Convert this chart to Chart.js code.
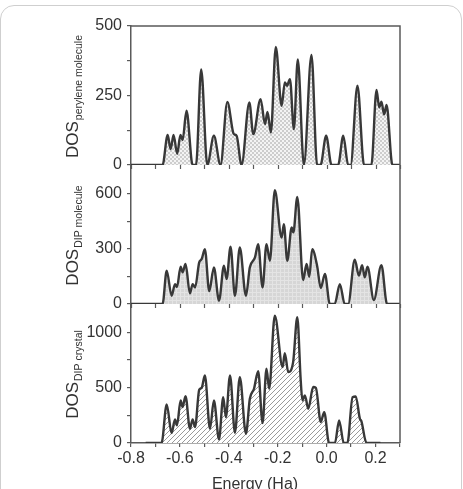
<!DOCTYPE html>
<html>
<head>
<meta charset="utf-8">
<script src="https://cdn.jsdelivr.net/npm/chart.js@4.4.1/dist/chart.umd.min.js"></script>
<style>
  html, body { margin: 0; padding: 0; background: #fff; }
  #wrap { position: relative; width: 463px; height: 489px; overflow: hidden; }
  #frame { position: absolute; left: 0; top: 5px; width: 460px; height: 520px;
           border: 1px solid #cfcfcf; border-radius: 14px; }
  #chart { position: absolute; left: 0; top: 0; }
</style>
</head>
<body>
<div id="wrap">
  <div id="frame"></div>
  <canvas id="chart" width="463" height="489"></canvas>
</div>
<script>
// Energy (Ha) / DOS pairs (peaks, valleys, zero crossings)
const perylE = [-0.80, -0.671, -0.650, -0.638, -0.626, -0.611, -0.598, -0.589, -0.573, -0.548,
  -0.534, -0.513, -0.488, -0.461, -0.434, -0.406, -0.380, -0.368, -0.348, -0.316,
  -0.300, -0.270, -0.252, -0.242, -0.228, -0.208, -0.184, -0.171, -0.162, -0.150,
  -0.134, -0.118, -0.093, -0.062, -0.039, -0.025, -0.002, 0.020, 0.047, 0.068,
  0.088, 0.098, 0.126, 0.153, 0.183, 0.204, 0.215, 0.224, 0.235, 0.245, 0.269, 0.30];
const perylV = [0, 0, 108, 57, 108, 40, 108, 90, 195, 0,
  0, 344, 0, 105, 0, 227, 112, 105, 0, 225,
  111, 237, 147, 191, 117, 425, 213, 297, 285, 309,
  129, 380, 0, 396, 0, 0, 105, 0, 0, 105,
  0, 0, 285, 0, 0, 270, 207, 228, 182, 216, 0, 0];

const molE = [-0.80, -0.671, -0.654, -0.634, -0.620, -0.612, -0.597, -0.589, -0.577, -0.559,
  -0.548, -0.538, -0.521, -0.511, -0.498, -0.480, -0.461, -0.440, -0.420, -0.409,
  -0.393, -0.375, -0.355, -0.330, -0.314, -0.293, -0.280, -0.262, -0.246, -0.232,
  -0.212, -0.184, -0.175, -0.161, -0.143, -0.136, -0.120, -0.096, -0.082, -0.071,
  -0.059, -0.039, -0.024, -0.007, 0.013, 0.033, 0.054, 0.074, 0.088, 0.115,
  0.132, 0.145, 0.156, 0.167, 0.193, 0.224, 0.247, 0.30];
const molV = [0, 0, 181, 45, 108, 92, 202, 172, 217, 58,
  108, 90, 226, 244, 298, 70, 199, 18, 208, 136,
  311, 45, 307, 45, 199, 253, 325, 90, 325, 235,
  618, 361, 434, 235, 416, 389, 582, 130, 217, 148,
  298, 208, 87, 163, 0, 0, 108, 0, 0, 240,
  154, 211, 145, 202, 22, 211, 0, 0];

const crysE = [-0.74, -0.675, -0.654, -0.634, -0.620, -0.612, -0.597, -0.589, -0.577, -0.559,
  -0.548, -0.538, -0.521, -0.511, -0.498, -0.477, -0.461, -0.440, -0.423, -0.412,
  -0.395, -0.375, -0.355, -0.330, -0.314, -0.297, -0.280, -0.262, -0.246, -0.235,
  -0.212, -0.180, -0.171, -0.157, -0.137, -0.120, -0.106, -0.099, -0.089, -0.075,
  -0.055, -0.044, -0.024, -0.010, 0.010, 0.034, 0.051, 0.070, 0.085, 0.106,
  0.119, 0.136, 0.142, 0.163, 0.22];
const crysV = [0, 0, 348, 90, 213, 160, 384, 324, 423, 129,
  213, 144, 480, 498, 610, 129, 384, 33, 414, 234,
  610, 93, 595, 84, 399, 490, 649, 180, 670, 490,
  1150, 685, 811, 640, 730, 1135, 565, 384, 430, 309,
  505, 498, 189, 279, 0, 0, 204, 0, 0, 414,
  420, 219, 198, 0, 0];

const xTicks = [-0.8, -0.7, -0.6, -0.5, -0.4, -0.3, -0.2, -0.1, 0.0, 0.1, 0.2, 0.3];
const xLabels = [-0.8, -0.6, -0.4, -0.2, 0.0, 0.2];
const perylTicks = [0, 125, 250, 375, 500];
const perylLabels = [0, 250, 500];
const molTicks = [0, 150, 300, 450, 600];
const molLabels = [0, 300, 600];
const crysTicks = [0, 250, 500, 750, 1000];
const crysLabels = [0, 500, 1000];
const panelNames = ['perylene molecule', 'DIP molecule', 'DIP crystal'];

const axisColor = '#5a5a5a';
const lineColor = '#383838';
const fontFamily = "'Liberation Sans', Arial, sans-serif";

// fill patterns: checker (top), fine grid (middle), diagonal hatch (bottom)
function makePattern(kind) {
    const c = document.createElement('canvas');
    const g = c.getContext('2d');
    if (kind === 'checker') {
        c.width = c.height = 4;
        g.fillStyle = '#f4f4f4';
        g.fillRect(0, 0, 4, 4);
        g.fillStyle = '#cdcdcd';
        g.fillRect(0, 0, 2, 2);
        g.fillRect(2, 2, 2, 2);
    } else if (kind === 'grid') {
        c.width = c.height = 4;
        g.fillStyle = '#d6d6d6';
        g.fillRect(0, 0, 4, 4);
        g.fillStyle = '#e4e4e4';
        g.fillRect(0, 0, 4, 1);
        g.fillRect(0, 0, 1, 4);
    } else {
        c.width = c.height = 5;
        g.fillStyle = '#ffffff';
        g.fillRect(0, 0, 5, 5);
        g.fillStyle = '#9a9a9a';
        for (let i = 0; i < 5; i++) g.fillRect(4 - i, i, 1, 1);
    }
    return g.createPattern(c, 'repeat');
}

const pts = (xs, ys) => xs.map((x, i) => ({ x: x, y: ys[i] }));

function series(xs, ys, axis, fill) {
    return {
        data: pts(xs, ys),
        yAxisID: axis,
        fill: 'origin',
        backgroundColor: fill,
        borderColor: lineColor,
        borderWidth: 2.4,
        pointRadius: 0,
        cubicInterpolationMode: 'monotone'
    };
}

function yScale(max, weight, ticks, labels) {
    return {
        type: 'linear',
        position: 'left',
        stack: 'dos',
        stackWeight: 1,
        weight: weight,
        min: 0,
        max: max,
        afterBuildTicks: s => { s.ticks = ticks.map(v => ({ value: v })); },
        afterFit: s => { s.width = 131; },
        border: { display: true, color: axisColor, width: 1.5 },
        grid: { drawOnChartArea: false, drawTicks: true, tickLength: 4, color: axisColor, lineWidth: 1.2 },
        ticks: {
            autoSkip: false,
            color: '#333',
            padding: 5,
            font: { family: fontFamily, size: 16 },
            callback: v => labels.includes(v) ? String(v) : ''
        }
    };
}

// frame, inner x ticks, subscripted y titles, x title
const panelDecor = {
    id: 'panelDecor',
    afterDraw(chart) {
        const ctx = chart.ctx;
        const area = chart.chartArea;
        const x = chart.scales.x;
        const panels = [chart.scales.y1, chart.scales.y2, chart.scales.y3];
        ctx.save();
        ctx.strokeStyle = axisColor;
        ctx.lineWidth = 1.5;
        ctx.beginPath();
        ctx.moveTo(area.left, area.top);
        ctx.lineTo(area.right, area.top);
        ctx.lineTo(area.right, area.bottom);
        ctx.stroke();

        ctx.lineWidth = 1.2;
        [panels[0], panels[1]].forEach(p => {
            xTicks.forEach(v => {
                const px = Math.round(x.getPixelForValue(v)) + 0.5;
                ctx.beginPath();
                ctx.moveTo(px, p.bottom);
                ctx.lineTo(px, p.bottom + 4);
                ctx.stroke();
            });
        });

        ctx.fillStyle = '#333';
        panels.forEach((p, i) => {
            const cy = (p.top + p.bottom) / 2 + 1;
            ctx.font = '17px ' + fontFamily;
            const w1 = ctx.measureText('DOS').width;
            ctx.font = '10.5px ' + fontFamily;
            const w2 = ctx.measureText(panelNames[i]).width;
            const total = w1 + w2 + 1;
            ctx.save();
            ctx.translate(78, cy);
            ctx.rotate(-Math.PI / 2);
            ctx.textBaseline = 'alphabetic';
            ctx.textAlign = 'left';
            ctx.font = '17px ' + fontFamily;
            ctx.fillText('DOS', -total / 2, 0);
            ctx.font = '10.5px ' + fontFamily;
            ctx.fillText(panelNames[i], -total / 2 + w1 + 1, 4);
            ctx.restore();
        });

        ctx.font = '16px ' + fontFamily;
        ctx.textAlign = 'center';
        ctx.textBaseline = 'alphabetic';
        ctx.fillText('Energy (Ha)', 255, 489);
        ctx.restore();
    }
};

new Chart(document.getElementById('chart'), {
    type: 'line',
    data: {
        datasets: [
            series(perylE, perylV, 'y1', makePattern('checker')),
            series(molE, molV, 'y2', makePattern('grid')),
            series(crysE, crysV, 'y3', makePattern('hatch'))
        ]
    },
    options: {
        responsive: false,
        animation: false,
        layout: { padding: { left: 0, right: 63, top: 26, bottom: 0 } },
        plugins: { legend: { display: false }, tooltip: { enabled: false } },
        scales: {
            x: {
                type: 'linear',
                min: -0.8,
                max: 0.3,
                afterBuildTicks: s => { s.ticks = xTicks.map(v => ({ value: v })); },
                afterFit: s => { s.height = 46; },
                border: { display: true, color: axisColor, width: 1.5 },
                grid: { drawOnChartArea: false, tickLength: 4, color: axisColor, lineWidth: 1.2 },
                ticks: {
                    autoSkip: false,
                    maxRotation: 0,
                    padding: 2,
                    color: '#333',
                    font: { family: fontFamily, size: 16 },
                    callback: v => xLabels.some(l => Math.abs(l - v) < 1e-9) ? v.toFixed(1) : ''
                }
            },
            y1: yScale(500, 3, perylTicks, perylLabels),
            y2: yScale(755, 2, molTicks, molLabels),
            y3: yScale(1255, 1, crysTicks, crysLabels)
        }
    },
    plugins: [panelDecor]
});
</script>
</body>
</html>
